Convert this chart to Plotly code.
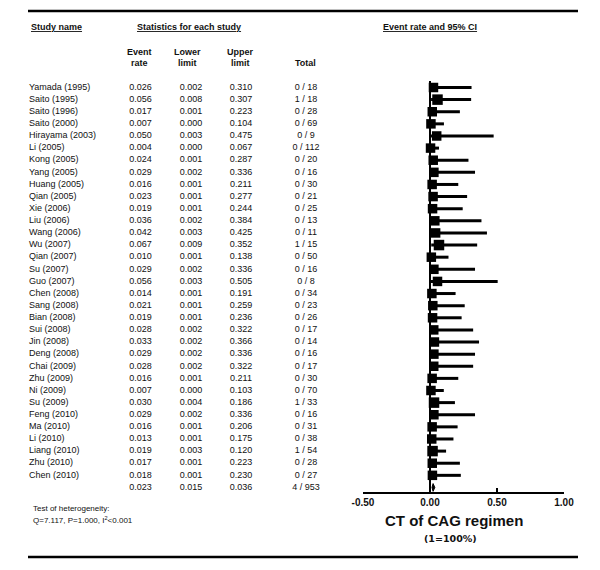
import plotly.graph_objects as go

# ---------------- data ----------------
studies = ["Yamada (1995)", "Saito (1995)", "Saito (1996)", "Saito (2000)", "Hirayama (2003)",
           "Li (2005)", "Kong (2005)", "Yang (2005)", "Huang (2005)", "Qian (2005)",
           "Xie (2006)", "Liu (2006)", "Wang (2006)", "Wu (2007)", "Qian (2007)",
           "Su (2007)", "Guo (2007)", "Chen (2008)", "Sang (2008)", "Bian (2008)",
           "Sui (2008)", "Jin (2008)", "Deng (2008)", "Chai (2009)", "Zhu (2009)",
           "Ni (2009)", "Su (2009)", "Feng (2010)", "Ma (2010)", "Li (2010)",
           "Liang (2010)", "Zhu (2010)", "Chen (2010)"]
event_rate = [0.026, 0.056, 0.017, 0.007, 0.050, 0.004, 0.024, 0.029, 0.016, 0.023,
              0.019, 0.036, 0.042, 0.067, 0.010, 0.029, 0.056, 0.014, 0.021, 0.019,
              0.028, 0.033, 0.029, 0.028, 0.016, 0.007, 0.030, 0.029, 0.016, 0.013,
              0.019, 0.017, 0.018]
lower_limit = [0.002, 0.008, 0.001, 0.000, 0.003, 0.000, 0.001, 0.002, 0.001, 0.001,
               0.001, 0.002, 0.003, 0.009, 0.001, 0.002, 0.003, 0.001, 0.001, 0.001,
               0.002, 0.002, 0.002, 0.002, 0.001, 0.000, 0.004, 0.002, 0.001, 0.001,
               0.003, 0.001, 0.001]
upper_limit = [0.310, 0.307, 0.223, 0.104, 0.475, 0.067, 0.287, 0.336, 0.211, 0.277,
               0.244, 0.384, 0.425, 0.352, 0.138, 0.336, 0.505, 0.191, 0.259, 0.236,
               0.322, 0.366, 0.336, 0.322, 0.211, 0.103, 0.186, 0.336, 0.206, 0.175,
               0.120, 0.223, 0.230]
events = [0, 1, 0, 0, 0, 0, 0, 0, 0, 0, 0, 0, 0, 1, 0, 0, 0, 0, 0, 0, 0, 0, 0, 0, 0,
          0, 1, 0, 0, 0, 1, 0, 0]
totals = [18, 18, 28, 69, 9, 112, 20, 16, 30, 21, 25, 13, 11, 15, 50, 16, 8, 34, 23, 26,
          17, 14, 16, 17, 30, 70, 33, 16, 31, 38, 54, 28, 27]
summary_rate, summary_lower, summary_upper = 0.023, 0.015, 0.036
summary_events, summary_total = 4, 953
x_ticks = [-0.5, 0.0, 0.5, 1.0]
x_tick_labels = ["-0.50", "0.00", "0.50", "1.00"]

# ---------------- layout helpers ----------------
# the page body has an 8px margin; the figure is sized so the page fits the window
OFF = 8
W, H = 600 - 2 * OFF, 570 - 2 * OFF
ROW0, ROWH = 87.5, 12.12
FONT = "Arial, 'Liberation Sans', sans-serif"
n = len(studies)
rows = list(range(n))
srow = n


def py(p):
    """window pixel (y) -> row units"""
    return (p - ROW0) / ROWH


fig = go.Figure()


def col(x, texts, ys, anchor="center", size=9, bold=False):
    fig.add_trace(go.Scatter(
        x=[x] * len(texts), y=ys, text=texts, mode="text",
        textposition="middle " + anchor, xaxis="x2", yaxis="y",
        textfont=dict(family=FONT, size=size, color="#111",
                      weight="bold" if bold else "normal"),
        hoverinfo="skip", showlegend=False))


allrows = rows + [srow]
col(29, studies, rows, anchor="right")
col(140.5, [f"{v:.3f}" for v in event_rate + [summary_rate]], allrows)
col(191, [f"{v:.3f}" for v in lower_limit + [summary_lower]], allrows)
col(241, [f"{v:.3f}" for v in upper_limit + [summary_upper]], allrows)
col(306, [f"{e} / {t}" for e, t in zip(events + [summary_events], totals + [summary_total])], allrows)

# forest: squares with CI
fig.add_trace(go.Scatter(
    x=event_rate, y=rows, mode="markers",
    marker=dict(symbol="square", color="black", opacity=1,
                size=[10.5 if e > 0 else 9.5 for e in events], line=dict(width=0)),
    error_x=dict(type="data", symmetric=False,
                 array=[u - r for u, r in zip(upper_limit, event_rate)],
                 arrayminus=[r - l for r, l in zip(event_rate, lower_limit)],
                 thickness=3, width=0, color="black"),
    xaxis="x", yaxis="y", hoverinfo="skip", showlegend=False))

# summary diamond
dh = 0.32
fig.add_trace(go.Scatter(
    x=[summary_lower, summary_rate, summary_upper, summary_rate, summary_lower],
    y=[srow, srow - dh, srow, srow + dh, srow],
    mode="lines", fill="toself", fillcolor="black", line=dict(color="black", width=1),
    xaxis="x", yaxis="y", hoverinfo="skip", showlegend=False))

shapes = [
    dict(type="line", xref="x", yref="y", x0=0, x1=0, y0=py(81), y1=py(493),
         line=dict(color="black", width=2)),
    dict(type="line", xref="x2", yref="y", x0=28, x1=578, y0=py(11), y1=py(11),
         line=dict(color="black", width=2.5)),
    dict(type="line", xref="x2", yref="y", x0=28, x1=578, y0=py(557), y1=py(557),
         line=dict(color="black", width=2.5)),
]


def ann(x, y, text, size=9, bold=False, anchor="center", family=FONT):
    return dict(x=x, y=py(y), xref="x2", yref="y", text=text, showarrow=False,
                xanchor=anchor, yanchor="middle",
                font=dict(family=family, size=size, color="#111",
                          weight="bold" if bold else "normal"))


annotations = [
    ann(29, 27, "<u>Study name</u>", bold=True, anchor="left"),
    ann(189, 27, "<u>Statistics for each study</u>", bold=True),
    ann(430, 27, "<u>Event rate and 95% CI</u>", bold=True),
    ann(139, 51.7, "Event", bold=True), ann(139, 62.7, "rate", bold=True),
    ann(187, 51.7, "Lower", bold=True), ann(187, 62.7, "limit", bold=True),
    ann(240, 51.7, "Upper", bold=True), ann(240, 62.7, "limit", bold=True),
    ann(305, 62.7, "Total", bold=True),
    ann(31, 508, "Test of heterogeneity:", size=8, anchor="left"),
    ann(31, 520, "Q=7.117, P=1.000, I<sup>2</sup>&lt;0.001", size=8, anchor="left"),
    ann(454, 520, "CT of CAG regimen", size=15, bold=True),
    ann(450, 538, "(1=100%)", size=9.5, bold=True, family="'DejaVu Sans', Verdana, sans-serif"),
]

fig.update_layout(
    width=W, height=H, margin=dict(l=0, r=0, t=0, b=0, autoexpand=False),
    paper_bgcolor="white", plot_bgcolor="rgba(0,0,0,0)", showlegend=False,
    xaxis=dict(domain=[(363 - OFF) / W, (564 - OFF) / W], range=[-0.5, 1.0],
               anchor="free", position=1 - (493 - OFF) / H,
               showline=True, linewidth=2, linecolor="black",
               ticks="inside", ticklen=4, tickwidth=2, tickcolor="black",
               tickvals=x_ticks, ticktext=x_tick_labels,
               tickfont=dict(family=FONT, size=10, color="#111", weight="bold"),
               showgrid=False, zeroline=False, fixedrange=True, automargin=False),
    xaxis2=dict(domain=[0, 1], range=[OFF, OFF + W], anchor="y", visible=False,
                showgrid=False, zeroline=False, fixedrange=True),
    yaxis=dict(domain=[0, 1], range=[py(OFF + H), py(OFF)], visible=False,
               showgrid=False, zeroline=False, fixedrange=True),
    shapes=shapes, annotations=annotations,
)

fig.write_html("out.html")
